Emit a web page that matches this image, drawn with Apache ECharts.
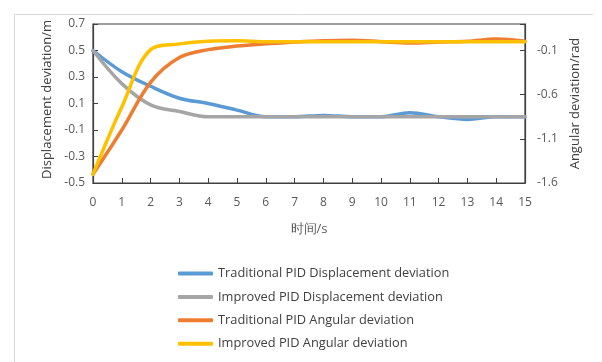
<!DOCTYPE html>
<html>
<head>
<meta charset="utf-8">
<script src="https://cdn.jsdelivr.net/npm/echarts@6/dist/echarts.min.js"></script>
<style>
html,body{margin:0;padding:0;background:#fff;}
#c{width:602px;height:362px;}
</style>
</head>
<body>
<div id="c"></div>
<script>
var times = [0,1,2,3,4,5,6,7,8,9,10,11,12,13,14,15];
var tradDisp = [0.50, 0.34, 0.23, 0.14, 0.10, 0.05, 0.00, 0.00, 0.01, 0.00, 0.00, 0.03, 0.00, -0.02, 0.00, 0.00];
var impDisp  = [0.50, 0.25, 0.09, 0.04, 0.00, 0.00, 0.00, 0.00, 0.00, 0.00, 0.00, 0.00, 0.00, 0.00, 0.00, 0.00];
var tradAng  = [-1.50, -1.00, -0.46, -0.18, -0.09, -0.05, -0.025, -0.005, 0.01, 0.015, 0.00, -0.015, -0.005, 0.005, 0.03, 0.005];
var impAng   = [-1.50, -0.74, -0.09, -0.025, 0.005, 0.01, 0.00, 0.00, 0.00, 0.00, 0.00, 0.00, 0.00, 0.00, 0.00, 0.00];
var seriesNames = ['Traditional PID Displacement deviation','Improved PID Displacement deviation','Traditional PID Angular deviation','Improved PID Angular deviation'];
var xName = '时间/s';
var yLeftName = 'Displacement deviation/m';
var yRightName = 'Angular deviation/rad';

function pairs(arr){ return arr.map(function(v,i){ return [times[i], v]; }); }

var FONT = 'Open Sans';
var chart = echarts.init(document.getElementById('c'), null, {renderer:'canvas'});
var axisColor = '#404040';
var labelColor = '#595959';

function mk(name, data, color, yIdx){
  return {name:name, type:'line', yAxisIndex:yIdx, data:pairs(data), smooth:0.35,
    showSymbol:false, symbol:'none', lineStyle:{color:color, width:3.5, cap:'round'},
    itemStyle:{color:color}};
}

chart.setOption({
  animation:false,
  backgroundColor:'#fff',
  textStyle:{fontFamily:FONT},
  graphic:[{type:'polyline', shape:{points:[[14.5,362],[14.5,14.5],[593,14.5]]}, style:{fill:null, stroke:'#d9d9d9', lineWidth:1}, silent:true}],
  grid:{left:93, right:77, top:24, bottom:179, show:true, borderColor:axisColor, borderWidth:1.2, backgroundColor:'transparent'},
  legend:{orient:'vertical', left:173, top:262, itemWidth:35, itemHeight:4, itemGap:10.4, icon:'roundRect',
    textStyle:{fontFamily:FONT, fontSize:12.8, color:'#404040'}, data:seriesNames},
  xAxis:{type:'value', min:0, max:15, interval:1, name:xName, nameLocation:'middle', nameGap:40,
    nameTextStyle:{fontFamily:FONT, fontSize:13, color:labelColor},
    axisLine:{onZero:false, lineStyle:{color:axisColor, width:1.2}}, axisTick:{inside:true, length:5, lineStyle:{color:axisColor}},
    axisLabel:{color:labelColor, fontSize:12, fontFamily:FONT, margin:14}, splitLine:{show:false}},
  yAxis:[
    {type:'value', min:-0.5, max:0.7, interval:0.2, name:yLeftName, nameLocation:'middle', nameRotate:90, nameGap:37,
      nameTextStyle:{fontFamily:FONT, fontSize:13, color:'#404040', padding:[0,0,0,8]},
      axisLine:{show:true, onZero:false, lineStyle:{color:axisColor, width:1.2}}, axisTick:{show:true, inside:true, length:5, lineStyle:{color:axisColor}},
      axisLabel:{color:labelColor, fontSize:12, fontFamily:FONT, margin:8, formatter:function(v){return v.toFixed(1);}}, splitLine:{show:false}},
    {type:'value', position:'right', min:-1.6, max:0.2, interval:0.5, name:yRightName, nameLocation:'middle', nameRotate:90, nameGap:44,
      nameTextStyle:{fontFamily:FONT, fontSize:13, color:'#404040'},
      axisLine:{show:true, onZero:false, lineStyle:{color:axisColor, width:1.2}}, axisTick:{show:true, inside:true, length:5, lineStyle:{color:axisColor}},
      axisLabel:{color:labelColor, fontSize:12, fontFamily:FONT, margin:12, formatter:function(v){ return v > 0 ? '' : v.toFixed(1);}}, splitLine:{show:false}}
  ],
  series:[
    mk(seriesNames[0], tradDisp, '#5B9BD5', 0),
    mk(seriesNames[1], impDisp, '#A5A5A5', 0),
    mk(seriesNames[2], tradAng, '#ED7D31', 1),
    mk(seriesNames[3], impAng, '#FFC000', 1)
  ]
});
</script>
</body>
</html>
